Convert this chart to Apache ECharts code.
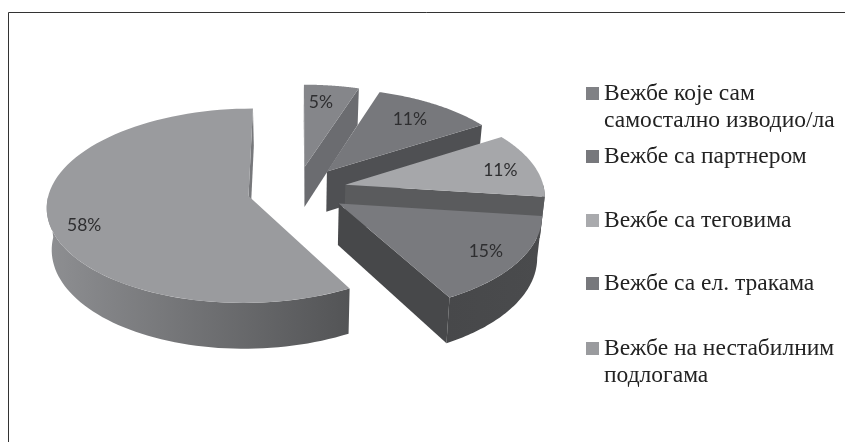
<!DOCTYPE html>
<html><head><meta charset="utf-8">
<style>html,body{margin:0;padding:0;background:#fff}#c{width:845px;height:442px}</style>
<script src="https://cdn.jsdelivr.net/npm/echarts@6/dist/echarts.min.js"></script>
</head><body><div id="c"></div>
<script>
const categories = ['Вежбе које сам\nсамостално изводио/ла','Вежбе са партнером','Вежбе са теговима','Вежбе са ел. тракама','Вежбе на нестабилним\nподлогама'];
const values = [5, 11, 11, 15, 58];

// styling and projection parameters
const topColors = ['#85868a','#77787c','#a6a7aa','#797a7e','#9a9b9e'];
const legendColors = ['#808185','#77787c','#a9aaad','#77787c','#9a9b9e'];
const sideColors = ['#6b6c70','#4f5053','#5a5b5d','#47484a','#77787b'];
const outerFrom = ['#6b6c70','#4f5053','#5a5b5d','#47484a','#8e8f92'];
const outerTo = ['#6b6c70','#4f5053','#5a5b5d','#4a4b4d','#535456'];
const labelPos = [[0.62,-1,-12],[0.72,3,-3],[0.80,4,2],[0.72,20,7],[0.80,-5,10]]; // radius fraction, x nudge, y nudge
const legendTops = [53,143,207,270,308];
const P = {cx:297, cy:190, rx:199, ry:95, k:0.10, depth:41, explode:0.25, bottomScale:0.98};

const total = values.reduce((a,b)=>a+b,0);
const rad = d => d*Math.PI/180;
function proj(X,Y,bottom){
  const w = 1+P.k*Y;
  return [P.cx+P.rx*X/w*(bottom?P.bottomScale:1), P.cy+(-P.ry*Y+(bottom?P.depth:0))/w];
}
function area(p){let s=0;for(let i=0;i<p.length;i++){const a=p[i],b=p[(i+1)%p.length];s+=a[0]*b[1]-b[0]*a[1];}return s;}

function renderSlice(idx){
  return function(params, api){
    const v = api.value(0);
    let before = 0; for(let i=0;i<idx;i++) before += values[i];
    const a0 = before/total*360, a1 = (before+v)/total*360, mid=(a0+a1)/2;
    const ex = P.explode*Math.sin(rad(mid)), ey = P.explode*Math.cos(rad(mid));
    const rim = (t,r=1)=>[ex+r*Math.sin(rad(t)), ey+r*Math.cos(rad(t))];
    const pt = (t,b,r)=>{const q=rim(t,r);return proj(q[0],q[1],b);};
    const kids = [];
    const apexT = proj(ex,ey,false), apexB = proj(ex,ey,true);
    // radial walls (culled when facing away)
    const wallEnd = [apexT, pt(a1,false), pt(a1,true), apexB];
    const wallStart = [apexT, pt(a0,false), pt(a0,true), apexB];
    [[wallEnd,1],[wallStart,-1]].forEach(([w,sgn])=>{
      if(area(w)*sgn > 0) kids.push({type:'polygon',shape:{points:w},style:{fill:sideColors[idx]},silent:true});
    });
    // outer wall, the part that faces the viewer
    const o0 = Math.max(a0,90), o1 = Math.min(a1,270);
    if(o1>o0){
      const tp=[],bt=[];
      for(let i=0;i<=60;i++){const t=o0+(o1-o0)*i/60;tp.push(pt(t,false));bt.unshift(pt(t,true));}
      kids.push({type:'polygon',shape:{points:tp.concat(bt)},silent:true,style:{fill:{type:'linear',x:0,y:0,x2:1,y2:0,
        colorStops:[{offset:0,color:outerFrom[idx]},{offset:1,color:outerTo[idx]}]}}});
    }
    // top face
    const top=[apexT];
    for(let i=0;i<=80;i++) top.push(pt(a0+(a1-a0)*i/80,false));
    kids.push({type:'polygon',shape:{points:top},silent:true,style:{fill:topColors[idx]}});
    // percentage label
    const lp = pt(mid,false,labelPos[idx][0]);
    kids.push({type:'text',silent:true,style:{text:v+'%',x:lp[0]+labelPos[idx][1],y:lp[1]+labelPos[idx][2],align:'center',verticalAlign:'middle',
      fontFamily:'Lato',fontSize:17.5,fill:'#2e2e30'}});
    return {type:'group',children:kids};
  };
}

const series = categories.map((name,i)=>({
  type:'custom', name, coordinateSystem:'none', data:[[values[i]]], silent:true, animation:false,
  itemStyle:{color:legendColors[i]}, renderItem:renderSlice(i), clip:false
}));
const legend = categories.map((name,i)=>({
  show:true, data:[{name,icon:'rect'}], left:586, top:legendTops[i], orient:'vertical', padding:0,
  itemWidth:13,itemHeight:13,itemGap:0,selectedMode:false,
  formatter:n=>n.includes('\n')?'\n'+n:n,
  textStyle:{fontFamily:'Liberation Serif',fontSize:23.5,lineHeight:27,color:'#222'}
}));
const chart = echarts.init(document.getElementById('c'),null,{renderer:'canvas'});
chart.setOption({
  animation:false, backgroundColor:'#fff', legend, series,
  graphic:[{type:'polyline',silent:true,shape:{points:[[8.5,442],[8.5,12.5],[845,12.5]]},style:{stroke:'#333',lineWidth:1,fill:null}}]
});
</script></body></html>
